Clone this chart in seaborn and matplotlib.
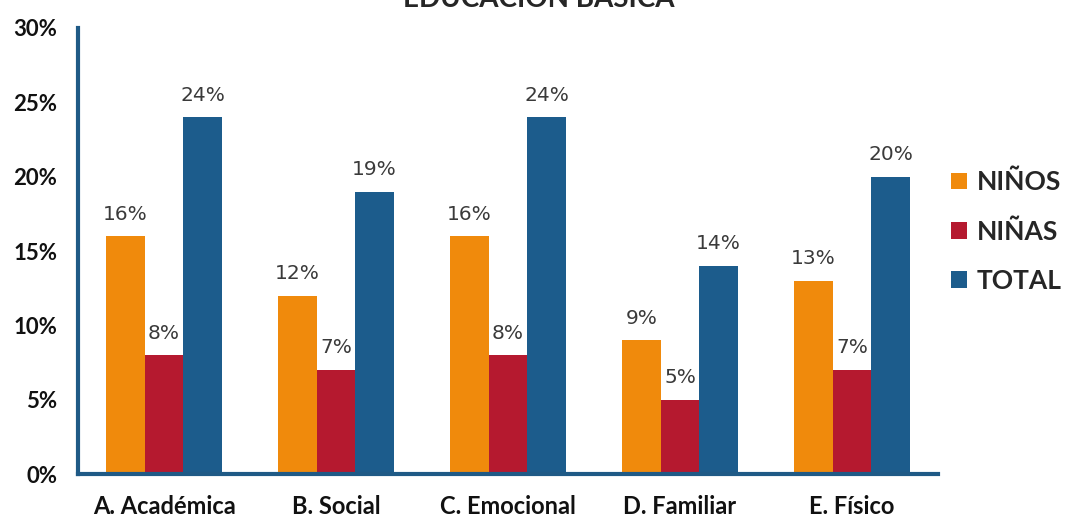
import matplotlib
matplotlib.use("Agg")
import matplotlib.pyplot as plt
import seaborn as sns
import pandas as pd
from matplotlib.patches import Patch
from matplotlib.ticker import FixedLocator

categories = ["A. Académica", "B. Social", "C. Emocional", "D. Familiar", "E. Físico"]
series_names = ["NIÑOS", "NIÑAS", "TOTAL"]
ninos = [16, 12, 16, 9, 13]
ninas = [8, 7, 8, 5, 7]
total = [24, 19, 24, 14, 20]
y_ticks = [0, 5, 10, 15, 20, 25, 30]
colors = ["#F08A0C", "#B5192F", "#1C5C8C"]
title = "EDUCACIÓN BÁSICA"

rows = []
for name, vals in zip(series_names, [ninos, ninas, total]):
    for c, v in zip(categories, vals):
        rows.append({"cat": c, "serie": name, "val": v})
df = pd.DataFrame(rows)

sns.set_theme(style="white")
plt.rcParams["font.family"] = ["Lato", "DejaVu Sans"]

fig = plt.figure(figsize=(10.75, 5.25), dpi=100)
ax = fig.add_axes([0.0726, 0.0971, 0.800, 0.8496])

sns.barplot(data=df, x="cat", y="val", hue="serie", order=categories,
            hue_order=series_names, palette=colors, width=0.67, gap=0,
            saturation=1, ax=ax, legend=False, linewidth=0, errorbar=None)

for cont in ax.containers:
    ax.bar_label(cont, labels=[f"{int(round(b.get_height()))}%" for b in cont],
                 padding=9, fontsize=14.5, color="#3a3a3a",
                 fontfamily="DejaVu Sans")

ax.set_ylim(0, 30)
ax.set_xlim(-0.5, len(categories) - 0.5)
ax.set_yticks(y_ticks)
ax.set_yticklabels([f"{t}%" for t in y_ticks], fontsize=16, fontweight="bold", color="#111111")
ax.set_xticks(range(len(categories)))
ax.set_xticklabels(categories, fontsize=17, fontweight="bold", color="#111111")
ax.tick_params(axis="x", which="major", length=0, pad=15)
ax.xaxis.set_minor_locator(FixedLocator([i - 0.5 for i in range(len(categories) + 1)]))
ax.tick_params(axis="x", which="minor", length=7, width=3, color="#1F5A86", direction="out")
ax.tick_params(axis="y", which="major", length=6, width=3, color="#1F5A86", direction="out", pad=9)
ax.set_xlabel("")
ax.set_ylabel("")

for s in ["top", "right"]:
    ax.spines[s].set_visible(False)
for s in ["left", "bottom"]:
    ax.spines[s].set_color("#1F5A86")
    ax.spines[s].set_linewidth(3)

handles = [Patch(facecolor=c, edgecolor="none") for c in colors]
leg = fig.legend(handles, series_names, loc="upper left", bbox_to_anchor=(0.863, 0.722),
                 frameon=False, prop={"weight": "bold", "size": 19},
                 handlelength=0.6, handleheight=0.6, handletextpad=0.35, labelspacing=0.95)

fig.text(0.501, 0.987, title, ha="center", va="baseline", fontsize=20, fontweight="bold")

fig.savefig("out.png", dpi=100, facecolor="white")
